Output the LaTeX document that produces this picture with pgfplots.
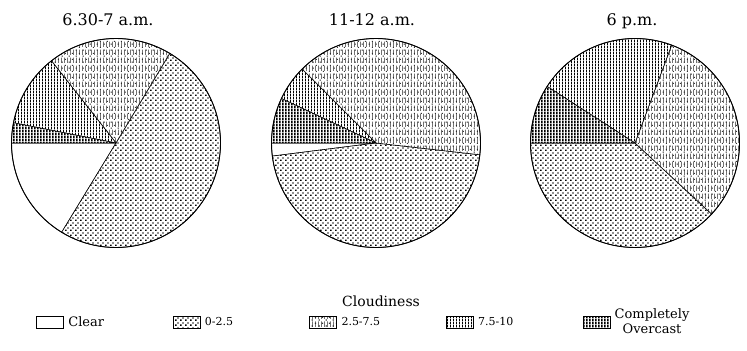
\documentclass[border=0pt]{standalone}
\usepackage{pgfplots}
\pgfplotsset{compat=1.18}
\usepackage{pgfplotstable}
\usepackage{fontspec}
\setmainfont{DejaVu Serif}
\usetikzlibrary{patterns}

% ---- hatch patterns ----
\pgfdeclarepatternformonly{cdots}{\pgfqpoint{0bp}{0bp}}{\pgfqpoint{5bp}{5bp}}{\pgfqpoint{5bp}{5bp}}{%
 \pgfpathrectangle{\pgfqpoint{0.2bp}{0.2bp}}{\pgfqpoint{1.6bp}{1.5bp}}%
 \pgfpathrectangle{\pgfqpoint{2.7bp}{2.7bp}}{\pgfqpoint{1.6bp}{1.5bp}}%
 \pgfusepath{fill}}
\pgfdeclarepatternformonly{sdots}{\pgfqpoint{0bp}{0bp}}{\pgfqpoint{6.6bp}{6bp}}{\pgfqpoint{6.6bp}{6bp}}{%
 \pgfpathrectangle{\pgfqpoint{1.8bp}{0.5bp}}{\pgfqpoint{1.2bp}{1.2bp}}%
 \pgfpathrectangle{\pgfqpoint{5.1bp}{3.5bp}}{\pgfqpoint{1.2bp}{1.2bp}}%
 \pgfusepath{fill}}
\pgfdeclarepatternformonly{dashv}{\pgfqpoint{0bp}{0bp}}{\pgfqpoint{3.3bp}{8bp}}{\pgfqpoint{3.3bp}{8bp}}{%
 \pgfpathrectangle{\pgfqpoint{0bp}{0bp}}{\pgfqpoint{0.75bp}{6bp}}\pgfusepath{fill}}
\pgfdeclarepatternformonly{vlines}{\pgfqpoint{0bp}{0bp}}{\pgfqpoint{3.2bp}{3bp}}{\pgfqpoint{3.2bp}{3bp}}{%
 \pgfpathrectangle{\pgfqpoint{0bp}{0bp}}{\pgfqpoint{1.2bp}{3bp}}\pgfusepath{fill}}
\pgfdeclarepatternformonly{vdense}{\pgfqpoint{0bp}{0bp}}{\pgfqpoint{2.7bp}{3bp}}{\pgfqpoint{2.7bp}{3bp}}{%
 \pgfpathrectangle{\pgfqpoint{0bp}{0bp}}{\pgfqpoint{1.7bp}{3bp}}\pgfusepath{fill}}

\tikzset{
 s0/.style={fill=white},
 s1/.style={fill=white, postaction={pattern=cdots}},
 s2/.style={fill=white, postaction={pattern=sdots, pattern color=black!80}, postaction={pattern=dashv, pattern color=black!85}},
 s3/.style={fill=white, postaction={pattern=vlines}},
 s4/.style={fill=white, postaction={pattern=vdense}},
}

% ---- data: share of observations (%) per cloudiness class ----
% rows: Clear, 0-2.5, 2.5-7.5, 7.5-10, Completely Overcast
\pgfplotstableread{
cls share
Clear 16.3
Low 50.1
Mid 19.2
High 11.3
Overcast 3.1
}\pieA
\pgfplotstableread{
cls share
Clear 2.0
Low 46.2
Mid 39.3
High 5.5
Overcast 7.0
}\pieB
\pgfplotstableread{
cls share
Clear 0.0
Low 38.1
Mid 31.2
High 21.6
Overcast 9.1
}\pieC

\newcommand{\drawpie}[3]{%
 \pgfplotstablegetrowsof{#1}%
 \pgfmathtruncatemacro{\lastrow}{\pgfplotsretval-1}%
 \gdef\startang{180}%
 \pgfplotsforeachungrouped \i in {0,...,\lastrow}{%
   \pgfplotstablegetelem{\i}{share}\of{#1}%
   \pgfmathsetmacro{\endang}{\startang+3.6*\pgfplotsretval}%
   \edef\slicecmd{\noexpand\filldraw[s\i, draw=black, line width=0.6bp] (axis cs:#2,#3) -- ++(\startang:104.5bp) arc[start angle=\startang, end angle=\endang, radius=104.5bp] -- cycle;}%
   \slicecmd
   \global\let\startang\endang
 }%
 \edef\circcmd{\noexpand\draw[line width=0.9bp] (axis cs:#2,#3) circle[radius=104.5bp];}\circcmd
}

\begin{document}
\begin{tikzpicture}
\begin{axis}[width=747bp, height=351bp, scale only axis,
  xmin=0, xmax=747, ymin=0, ymax=351, hide axis, clip=false,
  legend columns=5,
  legend style={at={(0.0482,0.0826)}, anchor=west, draw=none, fill=none,
    font=\fontsize{13bp}{14bp}\selectfont, inner sep=0pt, column sep=0pt,
    nodes={inner sep=1.5bp},
    /tikz/every odd column/.append style={column sep=3bp}},
  legend image code/.code={\draw[#1, draw=black, line width=0.6bp] (0bp,-6bp) rectangle (27bp,6bp);},
]
\drawpie{\pieA}{116}{208}
\drawpie{\pieB}{376}{208}
\drawpie{\pieC}{635}{208}

\node[anchor=base, font=\fontsize{16bp}{18bp}\selectfont] at (axis cs:108,325) {6.30-7 a.m.};
\node[anchor=base, font=\fontsize{16bp}{18bp}\selectfont] at (axis cs:372,325) {11-12 a.m.};
\node[anchor=base, font=\fontsize{16bp}{18bp}\selectfont] at (axis cs:632,325) {6 p.m.};
\node[anchor=base, font=\fontsize{14bp}{16bp}\selectfont] at (axis cs:381,44) {Cloudiness};

\addlegendimage{s0}\addlegendentry{\makebox[103bp][l]{Clear}}
\addlegendimage{s1}\addlegendentry{\makebox[103bp][l]{\fontsize{11bp}{12bp}\selectfont 0-2.5}}
\addlegendimage{s2}\addlegendentry{\makebox[103bp][l]{\fontsize{11bp}{12bp}\selectfont 2.5-7.5}}
\addlegendimage{s3}\addlegendentry{\makebox[103bp][l]{\fontsize{11bp}{12bp}\selectfont 7.5-10}}
\addlegendimage{s4}\addlegendentry{\shortstack{Completely\\Overcast}}
\path (axis cs:0,0) rectangle (axis cs:747,351);
\end{axis}
\end{tikzpicture}
\end{document}
